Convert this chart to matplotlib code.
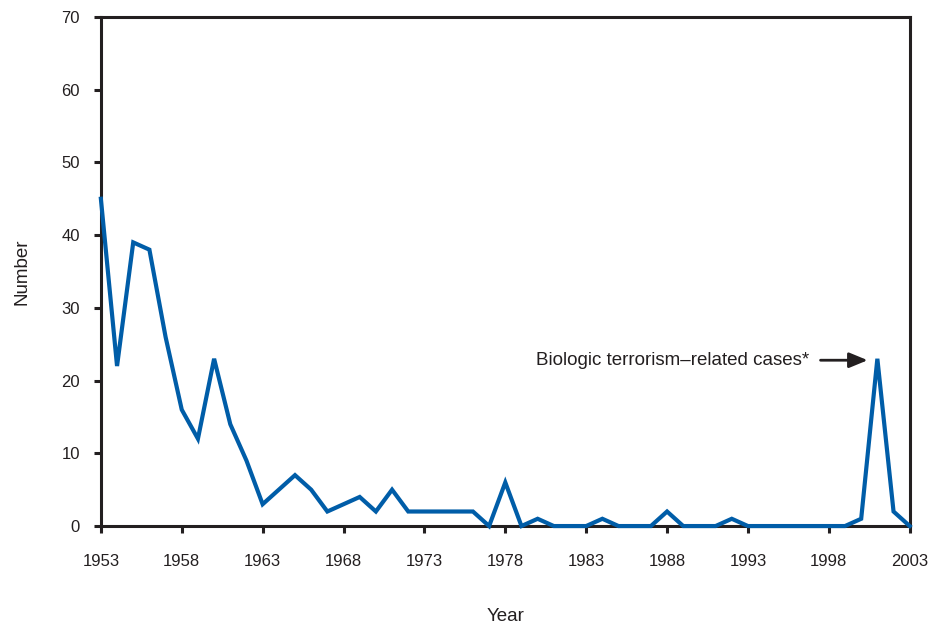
import matplotlib
matplotlib.use("Agg")
import matplotlib.pyplot as plt

plt.rcParams['font.family'] = ['Liberation Sans', 'DejaVu Sans']

years = list(range(1953, 2004))
cases = [45, 22, 39, 38, 26, 16, 12, 23, 14, 9,
         3, 5, 7, 5, 2, 3, 4, 2, 5, 2,
         2, 2, 2, 2, 0, 6, 0, 1, 0, 0,
         0, 1, 0, 0, 0, 2, 0, 0, 0, 1,
         0, 0, 0, 0, 0, 0, 0, 1, 23, 2,
         0]
xticks = list(range(1953, 2004, 5))
yticks = list(range(0, 71, 10))
annotation = "Biologic terrorism\u2013related cases*"

dark = '#231f20'
fig = plt.figure(figsize=(9.34, 6.27), dpi=100)
ax = fig.add_axes([0.108, 0.161, 0.866, 0.812])
ax.plot(years, cases, color='#005DA8', linewidth=3.0, solid_joinstyle='miter',
        clip_on=False, zorder=3)
ax.set_xlim(1953, 2003)
ax.set_ylim(0, 70)
ax.set_xticks(xticks)
ax.set_yticks(yticks)
ax.tick_params(direction='out', length=5, width=2.2, labelsize=12, color=dark,
               labelcolor=dark)
ax.tick_params(axis='x', pad=15)
ax.tick_params(axis='y', pad=10)
for s in ax.spines.values():
    s.set_linewidth(2.2)
    s.set_color(dark)
ax.set_xlabel('Year', fontsize=13.5, labelpad=28, color=dark)
ax.set_ylabel('Number', fontsize=13.5, labelpad=22, color=dark)
ax.annotate(annotation, xy=(2000.4, 22.8), xytext=(1996.8, 22.8),
            ha='right', va='center', fontsize=13.5, color=dark,
            arrowprops=dict(arrowstyle='-|>,head_length=0.8,head_width=0.33',
                            color=dark, lw=2.0,
                            shrinkA=6, shrinkB=0, mutation_scale=14))
fig.savefig('out.png', dpi=100)
